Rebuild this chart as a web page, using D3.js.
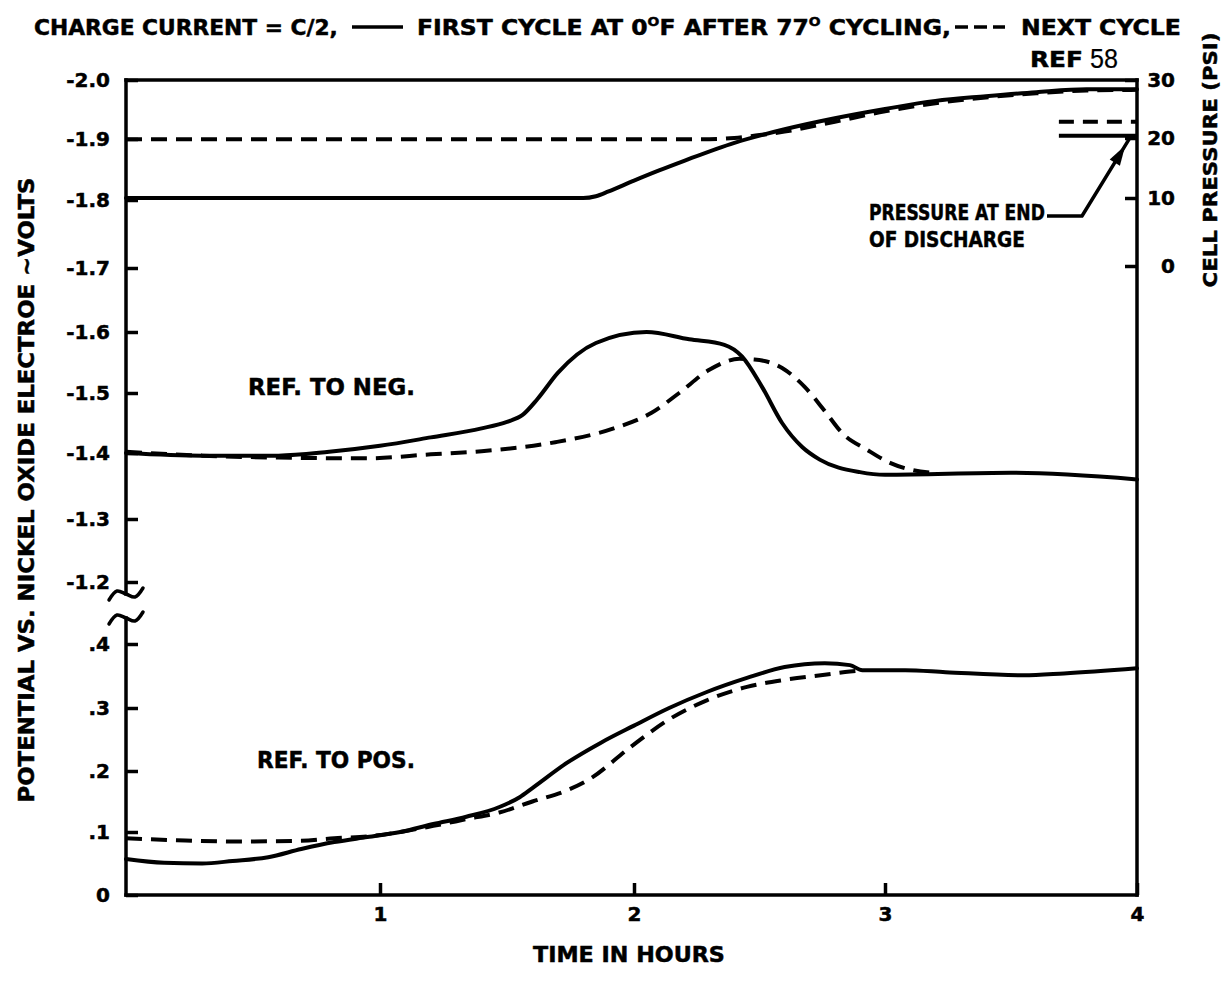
<!DOCTYPE html>
<html><head><meta charset="utf-8">
<script src="https://cdn.jsdelivr.net/npm/d3@7"></script>
<style>body{margin:0;background:#fff} svg{display:block}</style>
</head><body><svg id="c" width="1232" height="983"></svg>
<script>
// ---------- data ----------
const timeTicks = [1, 2, 3, 4];
const timeTickLabels = ["1", "2", "3", "4"];
const upperTicks = [-2.0, -1.9, -1.8, -1.7, -1.6, -1.5, -1.4, -1.3, -1.2];
const upperTickLabels = ["-2.0", "-1.9", "-1.8", "-1.7", "-1.6", "-1.5", "-1.4", "-1.3", "-1.2"];
const lowerTicks = [0.4, 0.3, 0.2, 0.1, 0];
const lowerTickLabels = [".4", ".3", ".2", ".1", "0"];
const pressureTicks = [0, 10, 20, 30];
const pressureTickLabels = ["0", "10", "20", "30"];

// [time in hours, value]
const pressureFirst = [[0,10],[1.0,10],[1.8,10],[1.85,10.3],[1.9,11.1],[2.0,12.9],[2.1,14.6],[2.2,16.2],[2.4,19.2],[2.6,21.5],[2.8,23.4],[3.0,25.0],[3.2,26.4],[3.4,27.2],[3.6,27.9],[3.8,28.4],[4.0,28.4]];
const pressureNext = [[0,19.8],[1.0,19.8],[2.3,19.8],[2.4,20.0],[2.5,20.5],[2.6,21.1],[2.8,22.8],[3.0,24.6],[3.2,26.0],[3.4,27.0],[3.6,27.7],[3.8,28.2],[4.0,28.3]];
const endPressureFirst = 20.4;
const endPressureNext = 22.8;
const endPressureSpan = [3.69, 4.0];

const negFirst = [[0,-1.400],[0.3,-1.396],[0.6,-1.396],[0.8,-1.402],[1.0,-1.412],[1.2,-1.426],[1.4,-1.441],[1.5,-1.452],[1.56,-1.463],[1.62,-1.490],[1.7,-1.533],[1.85,-1.582],[2.05,-1.600],[2.22,-1.588],[2.36,-1.579],[2.43,-1.560],[2.51,-1.510],[2.59,-1.450],[2.67,-1.410],[2.74,-1.390],[2.9,-1.371],[3.0,-1.367],[3.5,-1.370],[4.0,-1.360]];
const negNext = [[0,-1.402],[0.3,-1.396],[0.6,-1.393],[0.95,-1.392],[1.2,-1.398],[1.4,-1.403],[1.69,-1.418],[1.92,-1.441],[2.07,-1.467],[2.18,-1.500],[2.3,-1.538],[2.42,-1.556],[2.48,-1.555],[2.59,-1.541],[2.68,-1.510],[2.76,-1.470],[2.83,-1.433],[2.93,-1.405],[3.02,-1.385],[3.11,-1.374],[3.2,-1.370]];

const posFirst = [[0,0.057],[0.15,0.051],[0.3,0.050],[0.42,0.054],[0.56,0.060],[0.69,0.073],[0.82,0.084],[0.95,0.092],[1.08,0.100],[1.21,0.113],[1.34,0.125],[1.47,0.141],[1.55,0.157],[1.6,0.172],[1.74,0.214],[1.87,0.245],[2.0,0.272],[2.14,0.300],[2.29,0.325],[2.45,0.347],[2.6,0.364],[2.76,0.370],[2.86,0.367],[2.91,0.359],[3.08,0.359],[3.24,0.356],[3.55,0.351],[3.71,0.354],[4.0,0.362]];
const posNext = [[0,0.090],[0.2,0.087],[0.43,0.085],[0.69,0.086],[0.82,0.090],[0.95,0.093],[1.21,0.110],[1.34,0.121],[1.47,0.132],[1.6,0.150],[1.74,0.169],[1.83,0.188],[1.98,0.236],[2.14,0.282],[2.29,0.312],[2.45,0.333],[2.6,0.344],[2.76,0.352],[2.86,0.357],[2.91,0.359]];

// ---------- setup ----------
const F = "'DejaVu Sans', 'Liberation Sans', sans-serif";
const svg = d3.select('#c');
const x = d3.scaleLinear().domain([0,1,2,3,4]).range([126,380,634,885,1137]);
const yTop = d3.scaleLinear().domain(upperTicks).range([80,139,200,268,332,393,453,519,582]);
const yBot = d3.scaleLinear().domain(lowerTicks).range([644,708,771,832,895]);
const yP = d3.scaleLinear().domain(pressureTicks).range([266,198,138,80]);

const SW = 3.5;
const TS = 0.5; // text stroke for heavier look
const x0 = x(0), x1 = x(4);

function fitText(sel, left, width) {
  const bb = sel.node().getBBox();
  const s = width / bb.width;
  sel.attr('transform', `translate(${left - bb.x * s},0) scale(${s},1)`);
}
function addText(str, left, width, baseline, size, weight, family) {
  const t = svg.append('text').attr('x', 0).attr('y', baseline)
    .attr('font-family', family || F).attr('font-size', size).attr('font-weight', weight || 'bold')
    .attr('fill', '#000').attr('stroke', '#000').attr('stroke-width', weight === 'normal' ? 0.2 : TS)
    .text(str);
  fitText(t, left, width);
  return t;
}

// ---------- frame ----------
const frame = svg.append('g').attr('stroke', '#000').attr('stroke-width', SW).attr('fill', 'none').attr('stroke-linecap', 'square');
frame.append('line').attr('x1', x0).attr('x2', x1).attr('y1', yTop(-2.0)).attr('y2', yTop(-2.0));
frame.append('line').attr('x1', x0).attr('x2', x1).attr('y1', yBot(0)).attr('y2', yBot(0));
frame.append('line').attr('x1', x1).attr('x2', x1).attr('y1', yTop(-2.0)).attr('y2', yBot(0));
const brk1 = yTop(-1.2) + 12, brk2 = yBot(0.4) - 26;
frame.append('line').attr('x1', x0).attr('x2', x0).attr('y1', yTop(-2.0)).attr('y2', brk1);
frame.append('line').attr('x1', x0).attr('x2', x0).attr('y1', brk2).attr('y2', yBot(0));
const tilde = d3.line().curve(d3.curveCatmullRom);
const tildePts = [[-17,6],[-9,-3],[0,0],[9,3],[17,-6]];
[brk1, brk2].forEach(cy => {
  frame.append('path').attr('stroke-linecap', 'round')
    .attr('d', tilde(tildePts.map(p => [x0 + p[0], cy + p[1]])));
});

// ---------- axes ----------
function styleAxis(g) {
  g.select('.domain').remove();
  g.attr('font-family', F).attr('font-size', 20).attr('font-weight', 'bold');
  g.selectAll('.tick line').attr('stroke', '#000').attr('stroke-width', SW);
  g.selectAll('.tick text').attr('fill', '#000').attr('stroke', '#000').attr('stroke-width', TS);
}
svg.append('g').attr('transform', `translate(${x0},0)`)
  .call(d3.axisLeft(yTop).tickValues(upperTicks).tickSize(-12).tickPadding(16).tickFormat((d,i) => upperTickLabels[i]))
  .call(styleAxis);
svg.append('g').attr('transform', `translate(${x0},0)`)
  .call(d3.axisLeft(yBot).tickValues(lowerTicks).tickSize(-12).tickPadding(16).tickFormat((d,i) => lowerTickLabels[i]))
  .call(styleAxis);
const rAx = svg.append('g').attr('transform', `translate(${x1},0)`)
  .call(d3.axisRight(yP).tickValues(pressureTicks).tickSize(-12).tickPadding(11).tickFormat((d,i) => pressureTickLabels[i]))
  .call(styleAxis);
rAx.selectAll('.tick text').attr('x', 38).attr('text-anchor', 'end');
svg.append('g').attr('transform', `translate(0,${yBot(0)})`)
  .call(d3.axisBottom(x).tickValues(timeTicks).tickSize(-12).tickPadding(12).tickFormat((d,i) => timeTickLabels[i]))
  .call(styleAxis);

// ---------- curves ----------
function drawSeries(data, ys, dashed) {
  const ln = d3.line().x(d => x(d[0])).y(d => ys(d[1])).curve(d3.curveMonotoneX);
  svg.append('path').datum(data).attr('d', ln)
    .attr('fill', 'none').attr('stroke', '#000').attr('stroke-width', 4)
    .attr('stroke-linejoin', 'round')
    .attr('stroke-linecap', dashed ? 'butt' : 'round')
    .attr('stroke-dasharray', dashed ? '16,9' : null);
}
drawSeries(pressureFirst, yP, false);
drawSeries(pressureNext, yP, true);
drawSeries(negFirst, yTop, false);
drawSeries(negNext, yTop, true);
drawSeries(posFirst, yBot, false);
drawSeries(posNext, yBot, true);

// end-of-discharge pressure marks
svg.append('line').attr('x1', x(endPressureSpan[0])).attr('x2', x(endPressureSpan[1]))
  .attr('y1', yP(endPressureFirst)).attr('y2', yP(endPressureFirst))
  .attr('stroke', '#000').attr('stroke-width', 4);
svg.append('line').attr('x1', x(endPressureSpan[0])).attr('x2', x(endPressureSpan[1]))
  .attr('y1', yP(endPressureNext)).attr('y2', yP(endPressureNext))
  .attr('stroke', '#000').attr('stroke-width', 4).attr('stroke-dasharray', '15,9');

// annotation with arrow
const tip = [x(3.97), yP(endPressureFirst) + 3];
const elbow = [1082, 216];
svg.append('polyline').attr('points', [[1047, 216], elbow, tip].map(p => p.join(',')).join(' '))
  .attr('fill', 'none').attr('stroke', '#000').attr('stroke-width', 3.5).attr('stroke-linejoin', 'round');
{
  const ang = Math.atan2(tip[1] - elbow[1], tip[0] - elbow[0]);
  const L = 20, W = 6;
  const bx = tip[0] - 8 * Math.cos(ang), by = tip[1] - 8 * Math.sin(ang);
  const b2x = bx - L * Math.cos(ang), b2y = by - L * Math.sin(ang);
  const px = -Math.sin(ang) * W, py = Math.cos(ang) * W;
  svg.append('polygon').attr('points', [[bx, by], [b2x + px, b2y + py], [b2x - px, b2y - py]].map(p => p.join(',')).join(' ')).attr('fill', '#000');
}
addText('PRESSURE AT END', 869, 176, 220, 22);
addText('OF DISCHARGE', 869, 156, 247, 22);

addText('REF. TO NEG.', 248, 167, 395, 23);
addText('REF. TO POS.', 257, 158, 768, 23);

// ---------- titles ----------
const tY = 35;
addText('CHARGE CURRENT = C/2,', 34, 304, tY, 22);
svg.append('line').attr('x1', 352).attr('x2', 403).attr('y1', tY - 8).attr('y2', tY - 8).attr('stroke', '#000').attr('stroke-width', 3.5);
{
  const t = svg.append('text').attr('x', 0).attr('y', tY).attr('font-family', F).attr('font-size', 22).attr('font-weight', 'bold')
    .attr('fill', '#000').attr('stroke', '#000').attr('stroke-width', TS);
  t.append('tspan').text('FIRST CYCLE AT 0');
  t.append('tspan').attr('font-size', 13).attr('dy', -9).text('O');
  t.append('tspan').attr('dy', 9).text('F AFTER 77');
  t.append('tspan').attr('font-size', 13).attr('dy', -9).text('O');
  t.append('tspan').attr('dy', 9).text(' CYCLING,');
  fitText(t, 417, 534);
}
svg.append('line').attr('x1', 955).attr('x2', 1005).attr('y1', tY - 8).attr('y2', tY - 8).attr('stroke', '#000').attr('stroke-width', 3.5).attr('stroke-dasharray', '13,6');
addText('NEXT CYCLE', 1021, 160, tY, 22);
addText('REF', 1030, 53, 67, 22);
addText('58', 1090, 28, 68, 27, 'normal', "'Liberation Sans', Arial, sans-serif");

addText('TIME IN HOURS', 533, 192, 962, 22);

svg.append('text').attr('transform', 'translate(34,490) rotate(-90)')
  .attr('text-anchor', 'middle').attr('font-family', F).attr('font-size', 22).attr('font-weight', 'bold')
  .attr('textLength', 625).attr('lengthAdjust', 'spacingAndGlyphs').attr('fill', '#000')
  .attr('stroke', '#000').attr('stroke-width', TS)
  .text('POTENTIAL VS. NICKEL OXIDE ELECTROE ~VOLTS');
svg.append('text').attr('transform', 'translate(1217,160) rotate(-90)')
  .attr('text-anchor', 'middle').attr('font-family', F).attr('font-size', 20).attr('font-weight', 'bold')
  .attr('textLength', 255).attr('lengthAdjust', 'spacingAndGlyphs').attr('fill', '#000')
  .attr('stroke', '#000').attr('stroke-width', TS)
  .text('CELL PRESSURE (PSI)');
</script></body></html>
